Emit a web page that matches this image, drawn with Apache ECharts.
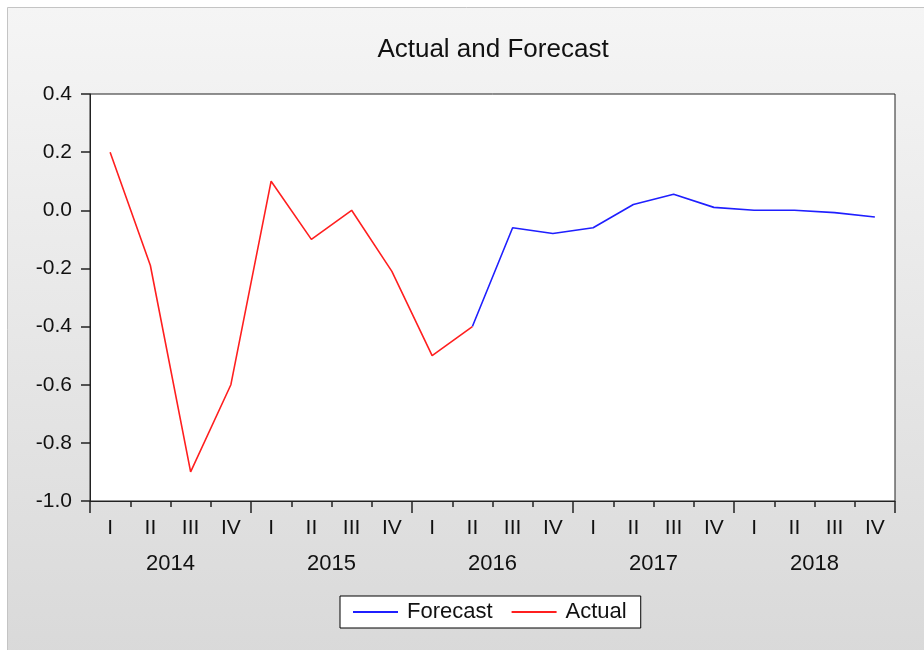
<!DOCTYPE html>
<html>
<head>
<meta charset="utf-8">
<script src="https://cdn.jsdelivr.net/npm/echarts@6/dist/echarts.min.js"></script>
<style>
html,body{margin:0;padding:0;background:#fff;}
#chart{width:924px;height:650px;}
</style>
</head>
<body>
<div id="chart"></div>
<script>
var quarters = ['I','II','III','IV','I','II','III','IV','I','II','III','IV','I','II','III','IV','I','II','III','IV'];
var years = ['2014','2015','2016','2017','2018'];
var actual = [0.20, -0.19, -0.90, -0.60, 0.10, -0.10, 0.00, -0.21, -0.50, -0.40,
              null, null, null, null, null, null, null, null, null, null];
var forecast = [null, null, null, null, null, null, null, null, null, -0.40,
                -0.06, -0.08, -0.06, 0.02, 0.055, 0.01, 0.00, 0.00, -0.008, -0.023];
var yTicks = [-1.0, -0.8, -0.6, -0.4, -0.2, 0.0, 0.2, 0.4];

var FONT = '"Liberation Sans", Arial, sans-serif';
var chart = echarts.init(document.getElementById('chart'), null, {renderer: 'canvas'});
var option = {
  animation: false,
  backgroundColor: '#ffffff',
  graphic: {
    elements: [{
      type: 'rect',
      z: -100,
      silent: true,
      shape: {x: 7.5, y: 7.5, width: 920, height: 650},
      style: {
        fill: new echarts.graphic.LinearGradient(0, 0, 0, 1, [
          {offset: 0, color: '#f5f5f5'},
          {offset: 1, color: '#d9d9d9'}
        ]),
        stroke: '#c4c4c4',
        lineWidth: 1
      }
    }]
  },
  title: {
    text: 'Actual and Forecast',
    left: 488,
    textAlign: 'center',
    top: 32,
    textStyle: {fontFamily: FONT, fontSize: 26, fontWeight: 'normal', color: '#111'}
  },
  legend: {
    data: ['Forecast', 'Actual'],
    left: 340,
    top: 596,
    orient: 'horizontal',
    backgroundColor: '#ffffff',
    borderColor: '#000',
    borderWidth: 1,
    borderRadius: 0,
    padding: [5, 14, 5, 13],
    itemWidth: 45,
    itemHeight: 2,
    itemGap: 19,
    icon: 'rect',
    textStyle: {fontFamily: FONT, fontSize: 22, color: '#111', padding: [0, 0, 0, 4]}
  },
  grid: {
    left: 90,
    right: 29,
    top: 94,
    bottom: 149,
    show: true,
    backgroundColor: '#ffffff',
    borderColor: '#222',
    borderWidth: 1,
    containLabel: false
  },
  xAxis: [{
    type: 'category',
    data: quarters,
    position: 'bottom',
    boundaryGap: true,
    axisLine: {show: true, onZero: false, lineStyle: {color: '#222', width: 1}},
    axisTick: {show: true, interval: 0, length: 6, lineStyle: {color: '#222', width: 1.5}},
    axisLabel: {interval: 0, margin: 17, fontFamily: FONT, fontSize: 21, color: '#111'},
    splitLine: {show: false}
  }, {
    type: 'category',
    data: years,
    position: 'bottom',
    boundaryGap: true,
    axisLine: {show: false, onZero: false},
    axisTick: {show: true, interval: 0, length: 12, lineStyle: {color: '#222', width: 1.5}},
    axisLabel: {interval: 0, margin: 52, fontFamily: FONT, fontSize: 22, color: '#111'},
    splitLine: {show: false}
  }],
  yAxis: {
    type: 'value',
    min: yTicks[0],
    max: yTicks[yTicks.length - 1],
    interval: 0.2,
    axisLine: {show: true, onZero: false, lineStyle: {color: '#222', width: 1}},
    axisTick: {show: true, length: 9, lineStyle: {color: '#222', width: 1.5}},
    axisLabel: {
      margin: 18,
      fontFamily: FONT, fontSize: 21, color: '#111',
      formatter: function (v) { return v.toFixed(1); }
    },
    splitLine: {show: false}
  },
  series: [{
    name: 'Forecast',
    type: 'line',
    xAxisIndex: 0,
    data: forecast,
    symbol: 'none',
    connectNulls: false,
    itemStyle: {color: '#1f1fff'},
    lineStyle: {color: '#1f1fff', width: 1.6}
  }, {
    name: 'Actual',
    type: 'line',
    xAxisIndex: 0,
    data: actual,
    symbol: 'none',
    connectNulls: false,
    itemStyle: {color: '#ff1f1f'},
    lineStyle: {color: '#ff1f1f', width: 1.6}
  }]
};
chart.setOption(option);
</script>
</body>
</html>
